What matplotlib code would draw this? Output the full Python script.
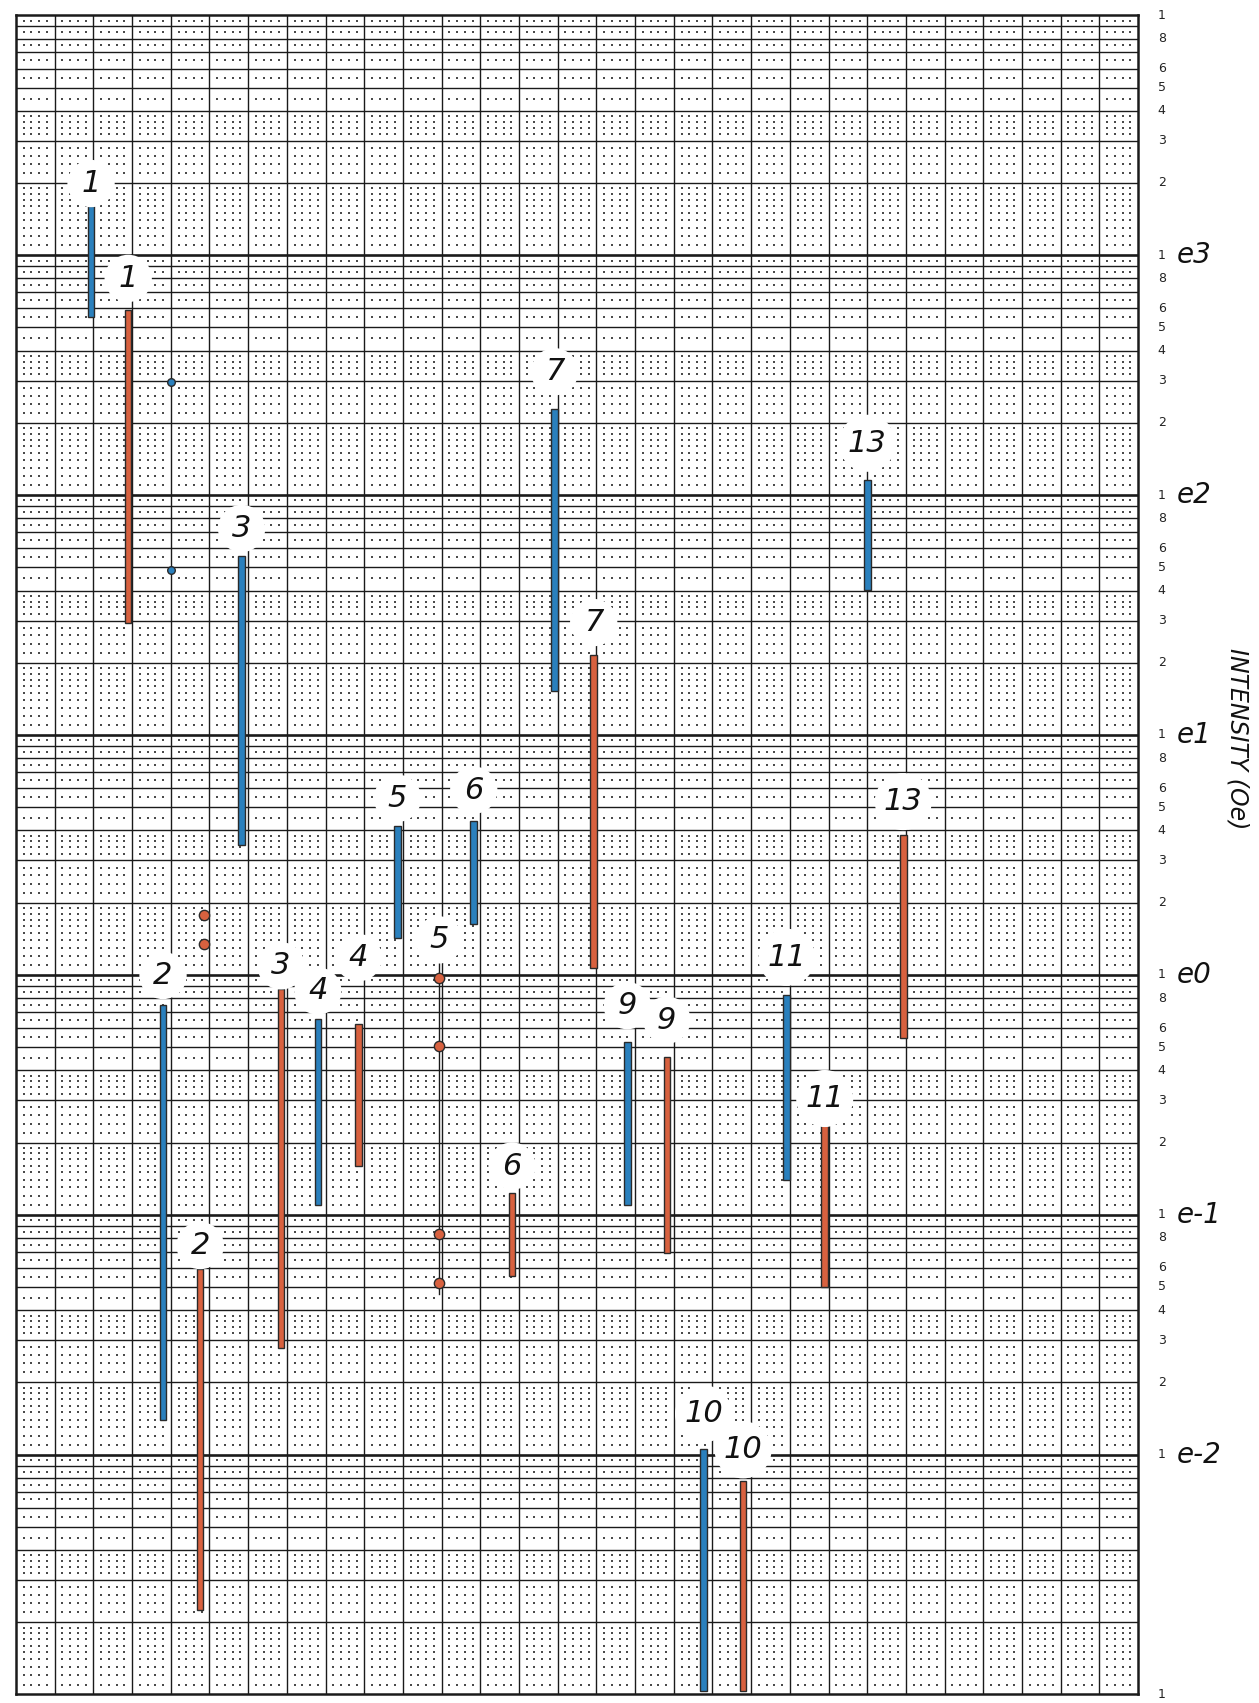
import matplotlib
matplotlib.use('Agg')
import matplotlib.pyplot as plt
import numpy as np

# ---------------- data ----------------
blue_ids = ['1', '2', '3', '4', '5', '6', '7', '9', '10', '11', '13']
blue_x = [1.94, 3.80, 5.83, 7.80, 9.86, 11.83, 13.92, 15.80, 17.77, 19.92, 22.00]
blue_hi = [1607, 0.751, 55.6, 0.656, 4.17, 4.39, 228, 0.526, 0.0106, 0.826, 115.5]
blue_lo = [553, 0.0140, 3.49, 0.110, 1.42, 1.63, 15.2, 0.110, 0.00103, 0.140, 40.2]

red_ids = ['1', '2', '3', '4', '6', '7', '9', '10', '11', '13']
red_x = [2.90, 4.76, 6.85, 8.85, 12.82, 14.93, 16.82, 18.79, 20.90, 22.93]
red_hi = [589, 0.0593, 0.869, 0.622, 0.123, 21.5, 0.455, 0.00773, 0.240, 3.83]
red_lo = [29.4, 0.00225, 0.0277, 0.160, 0.0557, 1.07, 0.0694, 0.00103, 0.0502, 0.543]

# single point measurements
blue_pt_x = [4.0, 4.0]
blue_pt_y = [296, 48.5]
red_pt_x = [4.87, 4.87, 10.93, 10.93, 10.93, 10.93]
red_pt_y = [1.77, 1.35, 0.966, 0.505, 0.0828, 0.0518]

# red sample 5: thin range line with points
red5_id = '5'
red5_x = 10.93
red5_hi = 1.13
red5_lo = 0.0467

right_digits = ['1', '8', '6', '5', '4', '3', '2']
decade_labels = {3: 'e3', 2: 'e2', 1: 'e1', 0: 'e0', -1: 'e-1', -2: 'e-2'}
ylabel = 'INTENSITY (Oe)'

# label offsets (points above bar top) -- layout
blue_lab_dy = [16, 21, 20, 20, 20, 22, 27, 26, 25, 27, 26.5]
red_lab_dy = [23, 17, 17, 48, 19.5, 23.5, 26.5, 22.7, 18, 24]
red5_lab_dy = 16

BLUE = '#2a80bd'
RED = '#d8613f'
EDGE = '#2a2a2a'
INK = '#1a1a1a'

fig = plt.figure(figsize=(12.59, 17.03), dpi=100)
ax = fig.add_axes([0.0127, 0.005, 0.8913, 0.986])
ax.set_yscale('log')
ax.set_xlim(0, 29)
ax.set_ylim(1e-3, 1e4)
ax.set_xticks([])
ax.set_yticks([])
ax.minorticks_off()
ax.tick_params(which='both', left=False, right=False, labelleft=False)
for s in ax.spines.values():
    s.set_linewidth(1.8)
    s.set_color(INK)

# ---------------- graph paper ----------------
for k in range(1, 29):
    ax.axvline(k, color=INK, lw=1.0, zorder=1)
for e in range(-3, 4):
    for m in range(1, 10):
        v = m * 10.0 ** e
        if v <= 1e-3:
            continue
        ax.axhline(v, color=INK, lw=1.9 if m == 1 else 1.0, zorder=1)

minor_x = [k + j / 5 for k in range(29) for j in range(1, 5)]
minor_m = ([1 + 0.1 * i for i in range(1, 10)] + [2.2, 2.4, 2.6, 2.8, 3.2, 3.4, 3.6, 3.8]
           + [4.5, 5.5, 6.5, 7.5, 8.5, 9.5])
minor_y = [m * 10.0 ** e for e in range(-3, 4) for m in minor_m]
MX, MY = np.meshgrid(minor_x, minor_y)
ax.scatter(MX.ravel(), MY.ravel(), marker='s', s=1.3, c='#4a4a4a', linewidths=0, zorder=1)

# ---------------- data marks ----------------
bw = 0.17
ax.bar(blue_x, np.array(blue_hi) - np.array(blue_lo), bottom=blue_lo, width=bw,
       color=BLUE, edgecolor=EDGE, linewidth=1.0, zorder=3)
ax.bar(red_x, np.array(red_hi) - np.array(red_lo), bottom=red_lo, width=bw,
       color=RED, edgecolor=EDGE, linewidth=1.0, zorder=3)

ax.plot([red5_x, red5_x], [red5_lo, red5_hi], color=INK, lw=1.0, zorder=3)
ax.plot(blue_pt_x, blue_pt_y, color=INK, lw=0.6, ls=':', zorder=3)
ax.scatter(blue_pt_x, blue_pt_y, s=30, color=BLUE, edgecolors=EDGE, linewidths=1.0, zorder=4)
ax.scatter(red_pt_x, red_pt_y, s=55, color=RED, edgecolors=EDGE, linewidths=1.0, zorder=4)

lab_kw = dict(textcoords='offset points', ha='center', va='center', fontsize=22,
              style='italic', color='#111111', zorder=5, annotation_clip=False,
              bbox=dict(boxstyle='circle,pad=0.3', fc='white', ec='none'))
for i, x, y, dy in zip(blue_ids, blue_x, blue_hi, blue_lab_dy):
    ax.annotate(i, xy=(x, y), xytext=(0, dy), **lab_kw)
for i, x, y, dy in zip(red_ids, red_x, red_hi, red_lab_dy):
    ax.annotate(i, xy=(x, y), xytext=(0, dy), **lab_kw)
ax.annotate(red5_id, xy=(red5_x, red5_hi), xytext=(0, red5_lab_dy), **lab_kw)

# ---------------- right-hand scale ----------------
tr = ax.get_yaxis_transform()
for e in range(-3, 4):
    for d in right_digits:
        v = int(d) * 10.0 ** e
        if e == -3 and d != '1':
            continue
        if v < 1e-3 or v > 1e4:
            continue
        ax.text(1.021, v, d, transform=tr, ha='center', va='center', fontsize=9,
                color='#222222', clip_on=False)
ax.text(1.021, 1e4, '1', transform=tr, ha='center', va='center', fontsize=9,
        color='#222222', clip_on=False)
for e, lab in decade_labels.items():
    ax.text(1.034, 10.0 ** e, lab, transform=tr, ha='left', va='center', fontsize=20,
            style='italic', color='#111111', clip_on=False)

fig.text(0.983, 0.566, ylabel, rotation=-90, ha='center', va='center', fontsize=17,
         style='italic', color='#111111')

fig.savefig('out.png', dpi=100, facecolor='white')
